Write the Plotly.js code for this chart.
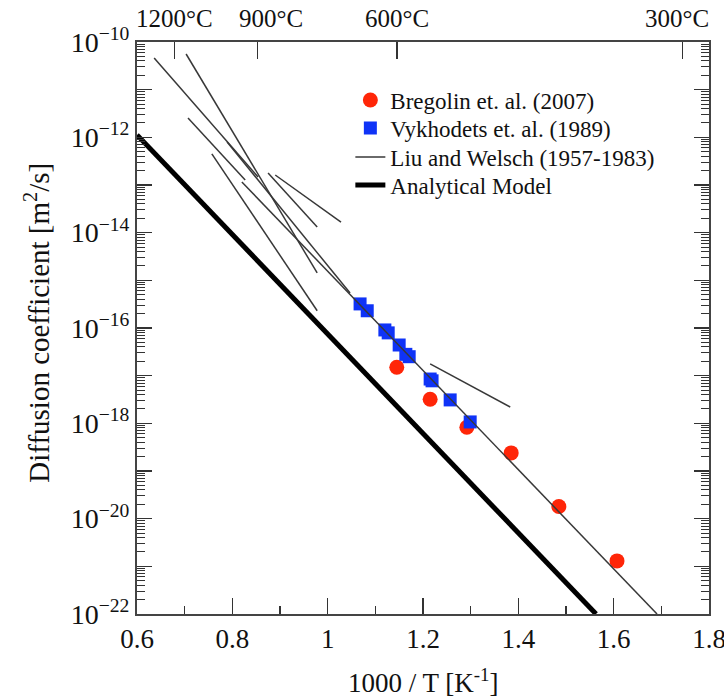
<!DOCTYPE html>
<html>
<head>
<meta charset="utf-8">
<script src="https://cdn.plot.ly/plotly-3.0.1.min.js"></script>
<style>html,body{margin:0;padding:0;background:#fff;}#chart{width:724px;height:699px;}</style>
</head>
<body>
<div id="chart"></div>
<script>
// Bregolin et al. (2007)
const bregX = [1.145, 1.215, 1.292, 1.385, 1.485, 1.607];
const bregD = [1.5e-17, 3.2e-18, 8.3e-19, 2.4e-19, 1.8e-20, 1.3e-21];
// Vykhodets et al. (1989)
const vykX = [1.068, 1.083, 1.120, 1.127, 1.150, 1.164, 1.171, 1.215, 1.219, 1.257, 1.299];
const vykD = [3.2e-16, 2.3e-16, 9.1e-17, 7.9e-17, 4.4e-17, 2.8e-17, 2.5e-17, 8.5e-18, 7.8e-18, 3.1e-18, 1.07e-18];
// Liu and Welsch (1957-1983) segments: start / end
const liuX0 = [0.636, 0.703, 0.707, 0.757, 0.789, 0.875, 0.890, 0.820, 1.215];
const liuD0 = [4.6e-11, 5.6e-11, 2.55e-12, 4.5e-13, 8.0e-13, 1.79e-13, 1.62e-13, 1.16e-13, 1.76e-17];
const liuX1 = [0.854, 0.978, 0.827, 0.978, 1.047, 0.978, 1.028, 1.691, 1.383];
const liuD1 = [1.47e-13, 1.43e-15, 1.27e-13, 2.3e-16, 5.4e-16, 1.31e-14, 1.67e-14, 1e-22, 2.2e-18];
// Analytical model
const modelX = [0.6, 1.563];
const modelD = [1.12e-12, 1e-22];
// Axis ticks
const xTickVals = [0.6, 0.8, 1.0, 1.2, 1.4, 1.6, 1.8];
const xTickText = ['0.6', '0.8', '1', '1.2', '1.4', '1.6', '1.8'];
const labelDecades = [-22, -20, -18, -16, -14, -12, -10];
const oddDecades = [-21, -19, -17, -15, -13, -11];
const celsius = [1200, 900, 600, 300];
const seriesNames = ['Bregolin et. al. (2007)', 'Vykhodets et. al. (1989)', 'Liu and Welsch (1957-1983)', 'Analytical Model'];

const FONT = 'Liberation Serif, Times New Roman, serif';
const INK = '#111';

const liuXs = [], liuYs = [];
for (let i = 0; i < liuX0.length; i++) {
  liuXs.push(liuX0[i], liuX1[i], null);
  liuYs.push(liuD0[i], liuD1[i], null);
}

const yTickVals = labelDecades.map(d => Math.pow(10, d));
const yTickText = labelDecades.map(d => '10<sup>\u2212' + Math.abs(d) + '</sup>');
const yOddVals = oddDecades.map(d => Math.pow(10, d));
const yMinor = [];
for (let d = -22; d < -10; d++) for (let k = 2; k <= 9; k++) yMinor.push(k * Math.pow(10, d));

const topVals = celsius.map(c => 1000 / (c + 273.15));
const topText = celsius.map(c => c + '\u00B0C');
const topShift = [0, 14, 0, -6];

const traces = [
  {x: bregX, y: bregD, type: 'scatter', mode: 'markers', name: seriesNames[0], legend: 'legend',
   marker: {symbol: 'circle', size: 15, color: '#ff2608'}},
  {x: vykX, y: vykD, type: 'scatter', mode: 'markers', name: seriesNames[1], legend: 'legend2',
   marker: {symbol: 'square', size: 13, color: '#0f33f7'}},
  {x: liuXs, y: liuYs, type: 'scatter', mode: 'lines', name: seriesNames[2], legend: 'legend3',
   connectgaps: false, line: {color: '#383838', width: 1.5}},
  {x: modelX, y: modelD, type: 'scatter', mode: 'lines', name: seriesNames[3], legend: 'legend4',
   line: {color: '#000', width: 5}},
  {x: [0.6], y: [1e-30], xaxis: 'x2', yaxis: 'y', type: 'scatter', mode: 'markers', showlegend: false,
   hoverinfo: 'skip', marker: {opacity: 0}},
  {x: [0.6], y: [1e-30], xaxis: 'x', yaxis: 'y2', type: 'scatter', mode: 'markers', showlegend: false,
   hoverinfo: 'skip', marker: {opacity: 0}}
];

const tickStyle = {ticks: 'inside', tickwidth: 1.3, tickcolor: '#333', showgrid: false, zeroline: false};
const legendRows = [100, 128, 157, 185]; // pixel centres of legend rows
function legendAt(row) {
  return {x: 0.373, y: (614 - legendRows[row]) / 572, xanchor: 'left', yanchor: 'middle',
          bgcolor: 'rgba(0,0,0,0)', font: {family: FONT, size: 23, color: INK}, itemwidth: 30};
}

const annotations = [
  {text: '1000 / T [K<sup>-1</sup>]', xref: 'paper', yref: 'paper', x: 0.5, y: -0.118,
   xanchor: 'center', yanchor: 'middle', showarrow: false, font: {family: FONT, size: 27, color: INK}},
  {text: 'Diffusion coefficient [m<sup>2</sup>/s]', xref: 'paper', yref: 'paper', x: -0.174, y: 0.51,
   xanchor: 'center', yanchor: 'middle', textangle: -90, showarrow: false, font: {family: FONT, size: 29, color: INK}}
];
topVals.forEach((v, i) => annotations.push({
  text: topText[i], xref: 'x', yref: 'paper', x: v, y: 1, yshift: 24, xshift: topShift[i],
  xanchor: 'center', yanchor: 'middle', showarrow: false, font: {family: FONT, size: 25, color: INK}
}));

const layout = {
  width: 724, height: 699,
  margin: {l: 137, r: 15, t: 42, b: 85},
  paper_bgcolor: '#fff', plot_bgcolor: '#fff',
  font: {family: FONT, size: 24, color: INK},
  showlegend: true,
  legend: legendAt(0), legend2: legendAt(1), legend3: legendAt(2), legend4: legendAt(3),
  xaxis: Object.assign({}, tickStyle, {range: [0.6, 1.8], tickmode: 'array', tickvals: xTickVals, ticktext: xTickText,
          ticklen: 16, showline: true, linecolor: '#444', linewidth: 2, mirror: true, ticklabeloverflow: 'allow',
          minor: {tickmode: 'linear', tick0: 0.6, dtick: 0.1, ticks: 'inside', ticklen: 8, tickwidth: 1.2, tickcolor: '#333', showgrid: false},
          tickfont: {family: FONT, size: 27, color: INK}}),
  xaxis2: Object.assign({}, tickStyle, {overlaying: 'x', side: 'top', range: [0.6, 1.8], tickmode: 'array',
           tickvals: topVals, ticklen: 17, showline: false, showticklabels: false}),
  yaxis: Object.assign({}, tickStyle, {type: 'log', range: [-22, -10], tickmode: 'array', tickvals: yTickVals, ticktext: yTickText,
          ticklen: 15, showline: true, linecolor: '#444', linewidth: 2, mirror: 'ticks',
          minor: {tickmode: 'array', tickvals: yMinor, ticks: 'inside', ticklen: 8, tickwidth: 1, tickcolor: '#333', showgrid: false},
          tickfont: {family: FONT, size: 28, color: INK}}),
  yaxis2: Object.assign({}, tickStyle, {type: 'log', overlaying: 'y', side: 'left', range: [-22, -10], tickmode: 'array',
          tickvals: yOddVals, ticklen: 15, showticklabels: false, showline: false, mirror: 'ticks'}),
  annotations: annotations
};

Plotly.newPlot('chart', traces, layout, {displayModeBar: false, staticPlot: true});
</script>
</body>
</html>
